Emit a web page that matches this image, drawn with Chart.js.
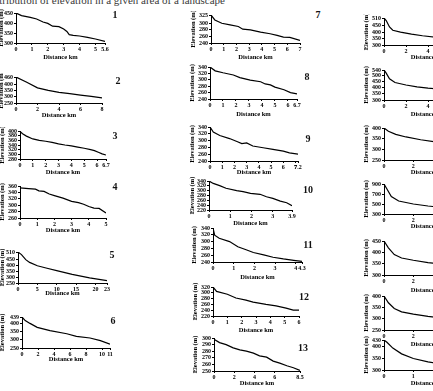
<!DOCTYPE html>
<html><head><meta charset="utf-8">
<script src="https://cdn.jsdelivr.net/npm/chart.js@4/dist/chart.umd.min.js"></script>
<style>
html,body{margin:0;padding:0;background:#fff;width:433px;height:391px;overflow:hidden;position:relative;font-family:"Liberation Serif","Times New Roman",serif;}
canvas{position:absolute;}
.num{position:absolute;font-weight:bold;font-size:10px;line-height:10px;transform:translate(-50%,-50%);color:#111;white-space:nowrap;}
.hdr{position:absolute;top:-5px;right:208px;font-size:11px;line-height:11px;white-space:nowrap;color:#3a3a3a;}
</style></head><body>
<div class="hdr">Distribution of elevation in a given area of a landscape</div>
<script>
// ---- data (distance km / elevation m) ----
const p1Dist=[0,0.35,0.9,1.3,1.7,2.0,2.3,2.7,3.0,3.2,3.35,3.6,4.0,4.5,5.0,5.6];
const p1Elev=[450,437,428,420,405,398,384,382,370,358,342,338,335,328,320,308];
const p1XTicks=[0,1,2,3,4,5,5.6]; const p1YTicks=[300,350,400,450];

const p2Dist=[0,1,2,3,4,5,6,7,8];
const p2Elev=[460,418,372,352,336,325,314,303,292];
const p2XTicks=[0,2,4,6,8]; const p2YTicks=[250,300,350,400,460];

const p3Dist=[0,0.2,0.5,1,1.5,2,2.5,3,3.5,4,4.5,5,5.5,5.8,6.1,6.4,6.7];
const p3Elev=[398,388,378,366,360,356,351,345,340,336,331,326,320,316,309,302,297];
const p3XTicks=[0,1,2,3,4,5,6,6.7]; const p3YTicks=[280,300,320,340,360,380,400];

const p4Dist=[0,0.5,0.9,1.1,1.4,1.7,2,2.5,3,3.4,3.7,4,4.3,4.6,5];
const p4Elev=[354,352,350,345,343,335,330,322,312,308,303,296,291,290,276];
const p4XTicks=[0,1,2,3,4,5]; const p4YTicks=[260,280,300,320,340,360];

const p5Dist=[0,0.9,2,3,5,7.5,10,14,18.5,23];
const p5Elev=[510,488,446,423,395,374,354,322,293,270];
const p5XTicks=[0,5,10,15,20,23]; const p5YTicks=[250,300,350,400,450,510];

const p6Dist=[0,0.4,1,1.9,3.5,5.6,6.8,8.5,9.8,11];
const p6Elev=[439,417,400,376,356,337,321,311,295,274];
const p6XTicks=[0,2,4,6,8,10,11]; const p6YTicks=[250,300,350,400,439];

const p7Dist=[0,0.3,0.85,1.5,2.15,2.5,3.1,3.9,4.65,5.2,5.7,6.2,7];
const p7Elev=[325,310,300,295,290,282,280,273,268,263,258,257,248];
const p7XTicks=[0,1,2,3,4,5,6,7]; const p7YTicks=[240,260,280,300,325];

const p8Dist=[0,0.4,1.0,1.8,2.3,3.1,3.9,4.25,4.65,5.0,5.7,6.2,6.7];
const p8Elev=[340,328,322,315,307,299,294,287,284,277,269,260,256];
const p8XTicks=[0,1,2,3,4,5,6,6.7]; const p8YTicks=[240,260,280,300,320,340];

const p9Dist=[0,0.27,0.8,1.6,2.3,2.6,3.0,3.5,4.35,5.15,6.0,6.5,7.2];
const p9Elev=[340,325,315,306,296,291,293,284,279,274,269,264,260];
const p9XTicks=[0,1,2,3,4,5,6,7,7.2]; const p9YTicks=[240,260,280,300,320,340];

const p10Dist=[0,0.2,0.5,0.8,1.3,1.6,1.95,2.4,2.7,3.0,3.35,3.65,3.9];
const p10Elev=[340,330,321,310,300,296,289,285,275,268,257,250,238];
const p10XTicks=[0,1,2,3,3.9]; const p10YTicks=[220,240,260,280,300,320,340];

const p11Dist=[0,0.08,0.3,0.8,1.2,1.6,1.95,2.45,2.9,3.4,3.9,4.3];
const p11Elev=[340,319,310,300,285,276,268,261,254,249,245,242];
const p11XTicks=[0,1,2,3,4,4.3]; const p11YTicks=[240,260,280,300,320,340];

const p12Dist=[0,0.25,1.0,1.6,2.3,2.8,3.7,4.4,5.1,5.6,6];
const p12Elev=[320,305,295,282,275,268,260,255,247,240,240];
const p12XTicks=[0,1,2,3,4,5,6]; const p12YTicks=[220,240,260,280,300,320];

const p13Dist=[0,0.55,1.2,1.9,2.55,3.2,3.9,4.5,5.2,5.85,6.5,7.2,7.85,8.5];
const p13Elev=[298,293,290,285,282,280,277,273,271,265,262,258,255,251];
const p13XTicks=[0,2,4,6,8.5]; const p13YTicks=[250,260,270,280,290,300];

const p14Dist=[0,0.2,0.5,0.8,1.5,2.5,3.5,5,6.5,8];
const p14Elev=[510,490,440,415,400,385,372,358,345,335];
const p14XTicks=[0,2,4,6,8]; const p14YTicks=[300,350,400,450,510];

const p15Dist=[0,0.2,0.5,1,2,3,4,6,8];
const p15Elev=[540,515,470,440,420,405,395,380,370];
const p15XTicks=[0,2,4,6,8]; const p15YTicks=[300,350,400,450,500,540];

const p16Dist=[0,0.3,0.8,1.5,2.5,3.5,5,6.5];
const p16Elev=[400,385,370,358,345,335,320,305];
const p16XTicks=[0,2,4,6]; const p16YTicks=[250,300,350,400];

const p17Dist=[0,0.2,0.5,1,2,3,4,6];
const p17Elev=[900,800,650,560,500,460,430,400];
const p17XTicks=[0,2,4,6]; const p17YTicks=[300,500,700,900];

const p18Dist=[0,0.3,0.7,1.2,2,3,4,6];
const p18Elev=[450,420,390,375,365,355,348,335];
const p18XTicks=[0,2,4,6]; const p18YTicks=[300,350,400,450];

const p19Dist=[0,0.3,0.7,1.2,2,3,4,6];
const p19Elev=[400,370,345,330,320,310,302,290];
const p19XTicks=[0,2,4,6]; const p19YTicks=[250,300,350,400];

const p20Dist=[0,0.1,0.3,0.6,1,1.5,2,3];
const p20Elev=[430,420,395,370,350,335,325,310];
const p20XTicks=[0,1,2,3]; const p20YTicks=[300,350,400,430];

// ---- layout (page pixels): plot area L,R,T,B, y-title x, x-title y, panel number position ----
const panels=[
 {n:'1', d:p1Dist,e:p1Elev,xt:p1XTicks,yt:p1YTicks,L:16,R:105,T:13,B:43,tx:0.5,ty:57,nx:115,ny:15},
 {n:'2', d:p2Dist,e:p2Elev,xt:p2XTicks,yt:p2YTicks,L:16,R:102,T:77,B:103,tx:0.5,ty:115,nx:118,ny:81},
 {n:'3', d:p3Dist,e:p3Elev,xt:p3XTicks,yt:p3YTicks,L:20,R:106,T:131,B:159,tx:1.5,ty:172,nx:115,ny:136},
 {n:'4', d:p4Dist,e:p4Elev,xt:p4XTicks,yt:p4YTicks,L:20,R:106,T:186,B:218,tx:1.5,ty:230,nx:115,ny:187},
 {n:'5', d:p5Dist,e:p5Elev,xt:p5XTicks,yt:p5YTicks,L:18,R:107,T:252,B:283,tx:1.5,ty:293,nx:112,ny:255},
 {n:'6', d:p6Dist,e:p6Elev,xt:p6XTicks,yt:p6YTicks,L:22,R:110,T:317,B:348,tx:2,ty:359,nx:113,ny:321},
 {n:'7', d:p7Dist,e:p7Elev,xt:p7XTicks,yt:p7YTicks,L:211,R:300,T:15,B:43,tx:193,ty:57,nx:318,ny:15},
 {n:'8', d:p8Dist,e:p8Elev,xt:p8XTicks,yt:p8YTicks,L:210,R:297,T:67,B:99,tx:192,ty:114,nx:307,ny:77},
 {n:'9', d:p9Dist,e:p9Elev,xt:p9XTicks,yt:p9YTicks,L:210,R:298,T:127,B:161,tx:192,ty:172,nx:308,ny:139},
 {n:'10',d:p10Dist,e:p10Elev,xt:p10XTicks,yt:p10YTicks,L:209,R:292,T:181,B:210,tx:192,ty:223,nx:308,ny:190},
 {n:'11',d:p11Dist,e:p11Elev,xt:p11XTicks,yt:p11YTicks,L:213,R:302,T:228,B:262,tx:194,ty:277,nx:308,ny:245},
 {n:'12',d:p12Dist,e:p12Elev,xt:p12XTicks,yt:p12YTicks,L:213,R:299,T:287,B:316,tx:195,ty:330,nx:304,ny:297},
 {n:'13',d:p13Dist,e:p13Elev,xt:p13XTicks,yt:p13YTicks,L:214,R:300,T:338,B:371,tx:195,ty:383,nx:303,ny:348},
 {n:'14',d:p14Dist,e:p14Elev,xt:p14XTicks,yt:p14YTicks,L:384,R:472,T:18,B:45,tx:366,ty:57,nx:500,ny:20},
 {n:'15',d:p15Dist,e:p15Elev,xt:p15XTicks,yt:p15YTicks,L:384,R:472,T:70,B:100,tx:366,ty:114,nx:500,ny:80},
 {n:'16',d:p16Dist,e:p16Elev,xt:p16XTicks,yt:p16YTicks,L:384,R:472,T:128,B:160,tx:366,ty:172,nx:500,ny:140},
 {n:'17',d:p17Dist,e:p17Elev,xt:p17XTicks,yt:p17YTicks,L:384,R:472,T:184,B:214,tx:366,ty:226,nx:500,ny:195},
 {n:'18',d:p18Dist,e:p18Elev,xt:p18XTicks,yt:p18YTicks,L:384,R:472,T:241,B:275,tx:366,ty:290,nx:500,ny:250},
 {n:'19',d:p19Dist,e:p19Elev,xt:p19XTicks,yt:p19YTicks,L:384,R:472,T:296,B:330,tx:366,ty:344,nx:500,ny:305},
 {n:'20',d:p20Dist,e:p20Elev,xt:p20XTicks,yt:p20YTicks,L:384,R:472,T:340,B:370,tx:366,ty:383,nx:500,ny:350}
];

const FAM='"Liberation Serif","Times New Roman",serif';
const tickFont={family:FAM,size:6,weight:'bold',lineHeight:1};
const titleFont={family:FAM,size:6.5,weight:'bold',lineHeight:1.2};
const padTop=4, padR=8;

panels.forEach(p=>{
  const tlh=titleFont.size*titleFont.lineHeight;
  const left=Math.round(p.tx-tlh/2);
  const top=p.T-padTop;
  const bottom=Math.round(p.ty+tlh/2);
  const w=p.R-left+padR, h=bottom-top;
  const yW=p.L-left, xH=bottom-p.B;
  const cv=document.createElement('canvas');
  cv.width=w; cv.height=h;
  cv.style.left=left+'px'; cv.style.top=top+'px';
  cv.style.width=w+'px'; cv.style.height=h+'px';
  document.body.appendChild(cv);
  const xs=p.xt, ys=p.yt;
  new Chart(cv,{
    type:'line',
    data:{datasets:[{data:p.d.map((x,i)=>({x:x,y:p.e[i]})),borderColor:'#000',borderWidth:1.2,pointRadius:0,tension:0,fill:false}]},
    options:{
      responsive:false,animation:false,events:[],
      layout:{padding:{top:padTop,right:padR,left:0,bottom:0}},
      plugins:{legend:{display:false},tooltip:{enabled:false}},
      scales:{
        x:{type:'linear',min:xs[0],max:xs[xs.length-1],
          afterBuildTicks:a=>{a.ticks=xs.map(v=>({value:v}));},
          afterFit:s=>{s.height=xH;},
          ticks:{autoSkip:false,maxRotation:0,minRotation:0,font:tickFont,color:'#000',padding:1,callback:v=>String(v)},
          grid:{display:true,drawOnChartArea:false,drawTicks:true,tickLength:2,color:'#000',lineWidth:1},
          border:{display:true,color:'#000',width:1},
          title:{display:true,text:'Distance km',font:titleFont,color:'#000',padding:0}
        },
        y:{type:'linear',min:ys[0],max:ys[ys.length-1],
          afterBuildTicks:a=>{a.ticks=ys.map(v=>({value:v}));},
          afterFit:s=>{s.width=yW;},
          ticks:{autoSkip:false,font:tickFont,color:'#000',padding:1,callback:v=>String(v)},
          grid:{display:true,drawOnChartArea:false,drawTicks:true,tickLength:2,color:'#000',lineWidth:1},
          border:{display:true,color:'#000',width:1},
          title:{display:true,text:'Elevation (m)',font:titleFont,color:'#000',padding:0}
        }
      }
    }
  });
  const nd=document.createElement('div');
  nd.className='num'; nd.textContent=p.n;
  nd.style.left=p.nx+'px'; nd.style.top=p.ny+'px';
  document.body.appendChild(nd);
});
</script>
</body></html>
